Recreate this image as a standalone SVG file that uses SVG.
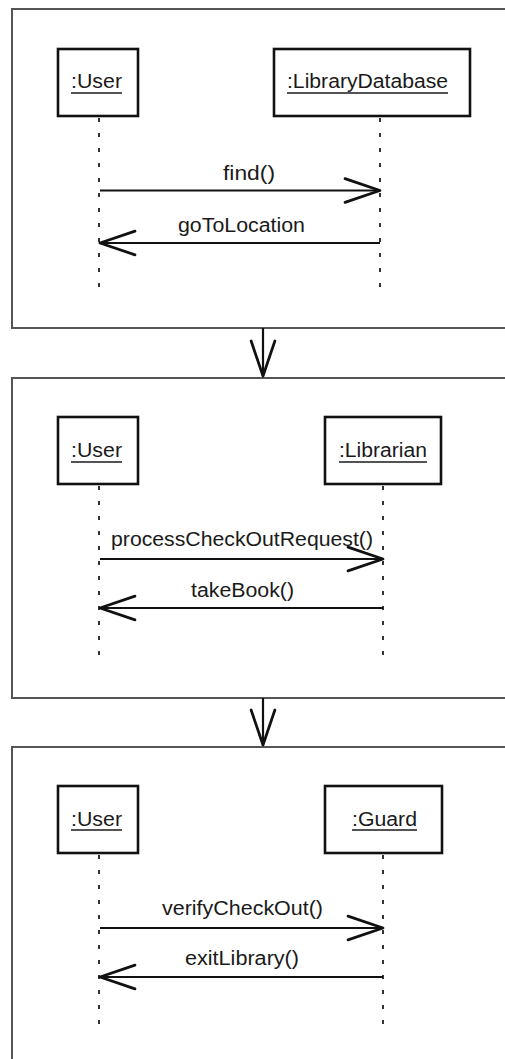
<svg xmlns="http://www.w3.org/2000/svg" width="505" height="1059" viewBox="0 0 505 1059">
  <defs>
    <style>
      .frame { fill: none; stroke: #555; stroke-width: 2; }
      .obj { fill: #fff; stroke: #111; stroke-width: 2.6; }
      .lbl { font-family: "Liberation Sans", Arial, sans-serif; font-size: 19.5px; fill: #1a1a1a; }
      .ul { stroke: #1a1a1a; stroke-width: 1.5; }
      .life { stroke: #333; stroke-width: 2; stroke-dasharray: 4 11; fill: none; }
      .msg { stroke: #111; stroke-width: 2.2; fill: none; marker-end: url(#open); }
      .flow { stroke: #111; stroke-width: 2.2; fill: none; marker-end: url(#open); }
    </style>
    <marker id="open" markerUnits="userSpaceOnUse" markerWidth="40" markerHeight="30" viewBox="-30 -12 32 24" refX="0" refY="0" orient="auto" overflow="visible">
      <path d="M -28 -9.5 L 0 0 L -28 9.5" fill="none" stroke="#111" stroke-width="2.2" stroke-linejoin="round" stroke-linecap="round"/>
    </marker>
  </defs>

  <rect width="505" height="1059" fill="#fff"/>

  <!-- interaction frames -->
  <g id="frames">
    <rect class="frame" x="12" y="9" width="520" height="319"/>
    <rect class="frame" x="12" y="378" width="520" height="320"/>
    <rect class="frame" x="12" y="747" width="520" height="340"/>
  </g>

  <!-- frame 1 -->
  <g id="user1">
    <rect class="obj" x="58" y="49" width="80" height="67"/>
    <text class="lbl" x="71" y="88" textLength="51" lengthAdjust="spacingAndGlyphs">:User</text>
    <line class="ul" x1="71" y1="93" x2="122" y2="93"/>
    <line class="life" x1="99" y1="118" x2="99" y2="290"/>
  </g>
  <g id="librarydatabase">
    <rect class="obj" x="274" y="49" width="196" height="67"/>
    <text class="lbl" x="287" y="88" textLength="161" lengthAdjust="spacingAndGlyphs">:LibraryDatabase</text>
    <line class="ul" x1="287" y1="93" x2="448" y2="93"/>
    <line class="life" x1="380" y1="118" x2="380" y2="290"/>
  </g>

  <!-- frame 2 -->
  <g id="user2">
    <rect class="obj" x="58" y="417" width="80" height="67"/>
    <text class="lbl" x="71" y="457" textLength="51" lengthAdjust="spacingAndGlyphs">:User</text>
    <line class="ul" x1="71" y1="462" x2="122" y2="462"/>
    <line class="life" x1="99" y1="486" x2="99" y2="657"/>
  </g>
  <g id="librarian">
    <rect class="obj" x="325" y="417" width="116" height="67"/>
    <text class="lbl" x="339" y="457" textLength="88" lengthAdjust="spacingAndGlyphs">:Librarian</text>
    <line class="ul" x1="339" y1="462" x2="427" y2="462"/>
    <line class="life" x1="383" y1="486" x2="383" y2="657"/>
  </g>

  <!-- frame 3 -->
  <g id="user3">
    <rect class="obj" x="58" y="786" width="80" height="67"/>
    <text class="lbl" x="71" y="826" textLength="51" lengthAdjust="spacingAndGlyphs">:User</text>
    <line class="ul" x1="71" y1="830" x2="122" y2="830"/>
    <line class="life" x1="99" y1="855" x2="99" y2="1027"/>
  </g>
  <g id="guard">
    <rect class="obj" x="325" y="786" width="117" height="67"/>
    <text class="lbl" x="352" y="826" textLength="65" lengthAdjust="spacingAndGlyphs">:Guard</text>
    <line class="ul" x1="352" y1="830" x2="417" y2="830"/>
    <line class="life" x1="383" y1="855" x2="383" y2="1027"/>
  </g>

  <!-- messages and frame-to-frame flow -->
  <g id="connectors">
    <line class="msg" x1="100" y1="190.5" x2="380" y2="190.5"/>
    <text class="lbl" x="223" y="180" textLength="52" lengthAdjust="spacingAndGlyphs">find()</text>
    <line class="msg" x1="380" y1="243" x2="100" y2="243"/>
    <text class="lbl" x="178" y="232" textLength="127" lengthAdjust="spacingAndGlyphs">goToLocation</text>

    <line class="msg" x1="100" y1="559" x2="383" y2="559"/>
    <text class="lbl" x="111" y="546" textLength="262" lengthAdjust="spacingAndGlyphs">processCheckOutRequest()</text>
    <line class="msg" x1="383" y1="608" x2="100" y2="608"/>
    <text class="lbl" x="191" y="597" textLength="103" lengthAdjust="spacingAndGlyphs">takeBook()</text>

    <line class="msg" x1="100" y1="928" x2="383" y2="928"/>
    <text class="lbl" x="162" y="915" textLength="161" lengthAdjust="spacingAndGlyphs">verifyCheckOut()</text>
    <line class="msg" x1="383" y1="977" x2="100" y2="977"/>
    <text class="lbl" x="185" y="965" textLength="114" lengthAdjust="spacingAndGlyphs">exitLibrary()</text>

    <line class="flow" x1="263" y1="328" x2="263" y2="376"/>
    <line class="flow" x1="263" y1="698" x2="263" y2="745"/>
  </g>
</svg>
